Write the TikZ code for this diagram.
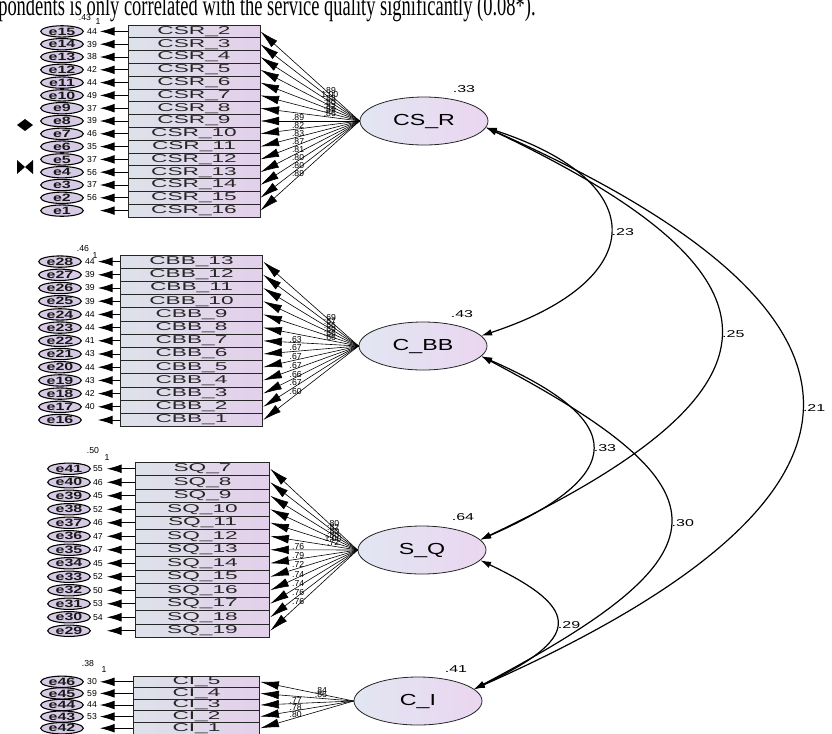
\documentclass[tikz,border=0pt]{standalone}
\usepackage{fontspec}
\setmainfont{Liberation Serif}
\newfontfamily\amosfont{Liberation Sans}
\usepackage{graphicx}
\usetikzlibrary{arrows.meta,shapes.geometric}

\definecolor{boxL}{HTML}{DDE2EA}
\definecolor{boxR}{HTML}{E3CFEA}
\definecolor{ellL}{HTML}{E2E6F2}
\definecolor{ellR}{HTML}{EAD6F0}
\definecolor{errF}{HTML}{D6CAE4}

\newcommand{\wide}[2]{\scalebox{#1}[1]{#2}}

\tikzset{
  obs/.style={draw=black!85, line width=0.6pt, left color=boxL, right color=boxR, inner sep=0pt, text=black!85, font=\amosfont\fontsize{8.5}{8.5}\selectfont},
  latent/.style={ellipse, draw=black!85, line width=0.6pt, left color=ellL, right color=ellR, minimum width=96pt, minimum height=36pt, inner sep=0pt, font=\amosfont\fontsize{12}{12}\selectfont},
  err/.style={ellipse, draw=black, line width=0.8pt, fill=errF, minimum width=32pt, minimum height=8.5pt, inner sep=0pt, text=black!90, font=\amosfont\bfseries\fontsize{8}{8}\selectfont},
  lbl/.style={inner sep=0pt, font=\amosfont\fontsize{6.5}{6.5}\selectfont},
  est/.style={inner sep=1pt, font=\amosfont\fontsize{7.5}{7.5}\selectfont},
  load/.style={-{Latex[length=14pt,width=6.5pt]}, line width=0.45pt},
  res/.style={-{Latex[length=11pt,width=6.5pt]}, line width=0.6pt, shorten >=12pt},
  cov/.style={{Latex[length=8pt,width=5pt]}-{Latex[length=8pt,width=5pt]}, line width=0.9pt}
}

\begin{document}
\begin{tikzpicture}[x=0.75pt,y=0.75pt]
\useasboundingbox (0,0) rectangle (832,-733);

\node[anchor=base west, inner sep=0pt, font=\fontsize{22}{22}\selectfont] (note) at (-2,-15)
  {\wide{0.63}{pondents is only correlated with the service quality significantly (0.08*).}};

% latent variables
\node[latent] (CSR) at (424,-121) {\wide{1.45}{CS\_R}};
\node[latent] (CBB) at (423,-346) {\wide{1.45}{C\_BB}};
\node[latent] (SQ) at (422,-550) {\wide{1.45}{S\_Q}};
\node[latent] (CI) at (418,-701) {\wide{1.45}{C\_I}};
\node[est] at (464,-89) {\wide{1.6}{.33}};
\node[est] at (462,-314) {\wide{1.6}{.43}};
\node[est] at (463,-517) {\wide{1.6}{.64}};
\node[est] at (456,-669) {\wide{1.6}{.41}};

% CS_R items
\foreach \n/\v/\l [count=\i] in {2/44/.89,3/39/1.00,4/38/.88,5/42/.80,6/44/.82,7/49/.89,8/37/.86,9/39/.89,10/46/.82,11/35/.83,12/37/.87,13/56/.81,14/37/.80,15/56/.80,16//.89}{
  \pgfmathsetmacro{\yy}{25+(\i-0.5)*12.8}
  \pgfmathtruncatemacro{\k}{16-\i}
  \pgfmathsetmacro{\pp}{\i<8 ? 0.3 : 0.62}
  \node[obs, minimum width=99pt, minimum height=9.6pt] (csr\n) at (194,-\yy) {\wide{2}{CSR\_\n}};
  \node[err] (e\k) at (62,-\yy) {\wide{1.5}{e\k}};
  \node[lbl] at (92,-\yy) {\v};
  \draw[res] (csr\n.west) -- (e\k.east);
  \draw[load] (CSR.west) -- (csr\n.east) node[lbl, pos=\pp, above] {\l};
}
\node[lbl] at (85,-18) {.43};
\node[lbl] at (98,-22) {1};

% C_BB items
\foreach \n/\v/\l [count=\i] in {13/44/.69,12/39/.67,11/39/.66,10/39/.69,9/44/.66,8/44/.66,7/41/.63,6/43/.67,5/44/.67,4/43/.67,3/42/.66,2/40/.67,1//.60}{
  \pgfmathsetmacro{\yy}{255+(\i-0.5)*13.2}
  \pgfmathtruncatemacro{\k}{29-\i}
  \pgfmathsetmacro{\pp}{\i<7 ? 0.3 : 0.66}
  \node[obs, minimum width=107pt, minimum height=9.9pt] (cbb\n) at (191.5,-\yy) {\wide{2}{CBB\_\n}};
  \node[err] (e\k) at (60,-\yy) {\wide{1.5}{e\k}};
  \node[lbl] at (90,-\yy) {\v};
  \draw[res] (cbb\n.west) -- (e\k.east);
  \draw[load] (CBB.west) -- (cbb\n.east) node[lbl, pos=\pp, above] {\l};
}
\node[lbl] at (83,-249) {.46};
\node[lbl] at (95,-256) {1};

% S_Q items
\foreach \n/\v/\l [count=\i] in {7/55/.80,8/46/.82,9/45/.80,10/52/.80,11/46/1.00,12/47/.72,13/47/.76,14/45/.79,15/52/.72,16/50/.74,17/53/.74,18/54/.76,19//.76}{
  \pgfmathsetmacro{\yy}{462+(\i-0.5)*13.5}
  \pgfmathtruncatemacro{\k}{42-\i}
  \pgfmathsetmacro{\pp}{\i<7 ? 0.28 : 0.68}
  \node[obs, minimum width=101pt, minimum height=10.1pt] (sq\n) at (202.5,-\yy) {\wide{2}{SQ\_\n}};
  \node[err] (e\k) at (69,-\yy) {\wide{1.5}{e\k}};
  \node[lbl] at (98,-\yy) {\v};
  \draw[res] (sq\n.west) -- (e\k.east);
  \draw[load] (SQ.west) -- (sq\n.east) node[lbl, pos=\pp, above] {\l};
}
\node[lbl] at (93,-451) {.50};
\node[lbl] at (107,-458) {1};

% C_I items
\foreach \n/\v/\l [count=\i] in {5/30/.84,4/59/.86,3/44/.77,2/53/.78,1//.80}{
  \pgfmathsetmacro{\yy}{676+(\i-0.5)*11.6}
  \pgfmathtruncatemacro{\k}{47-\i}
  \pgfmathsetmacro{\pp}{\i<3 ? 0.35 : 0.62}
  \node[obs, minimum width=95pt, minimum height=8.7pt] (ci\n) at (196.5,-\yy) {\wide{2}{CI\_\n}};
  \node[err] (e\k) at (62,-\yy) {\wide{1.5}{e\k}};
  \node[lbl] at (92,-\yy) {\v};
  \draw[res] (ci\n.west) -- (e\k.east);
  \draw[load] (CI.west) -- (ci\n.east) node[lbl, pos=\pp, above] {\l};
}
\node[lbl] at (88,-664) {.38};
\node[lbl] at (104,-670) {1};

% stray marks
\fill (17,-125) -- (25,-119) -- (33,-125) -- (25,-131) -- cycle;
\fill (17,-160) -- (33,-174) -- (33,-160) -- (17,-174) -- cycle;

% covariances
\draw[cov] (CSR.-6) .. controls +(168,-55) and +(168,55) .. (CBB.10) node[est, pos=0.5, anchor=west] {\wide{1.6}{.23}};
\draw[cov] (CSR.-6) .. controls +(316,-150) and +(316,150) .. (SQ.10) node[est, pos=0.5, anchor=west] {\wide{1.6}{.25}};
\draw[cov] (CSR.-6) .. controls +(428,-190) and +(428,190) .. (CI.12) node[est, pos=0.5, anchor=west] {\wide{1.6}{.21}};
\draw[cov] (CBB.-10) .. controls +(148,-65) and +(148,65) .. (SQ.10) node[est, pos=0.5, anchor=west] {\wide{1.6}{.33}};
\draw[cov] (CBB.-10) .. controls +(256,-135) and +(256,135) .. (CI.12) node[est, pos=0.5, anchor=west] {\wide{1.6}{.30}};
\draw[cov] (SQ.-10) .. controls +(105,-50) and +(105,50) .. (CI.12) node[est, pos=0.5, anchor=west] {\wide{1.6}{.29}};
\end{tikzpicture}
\end{document}
